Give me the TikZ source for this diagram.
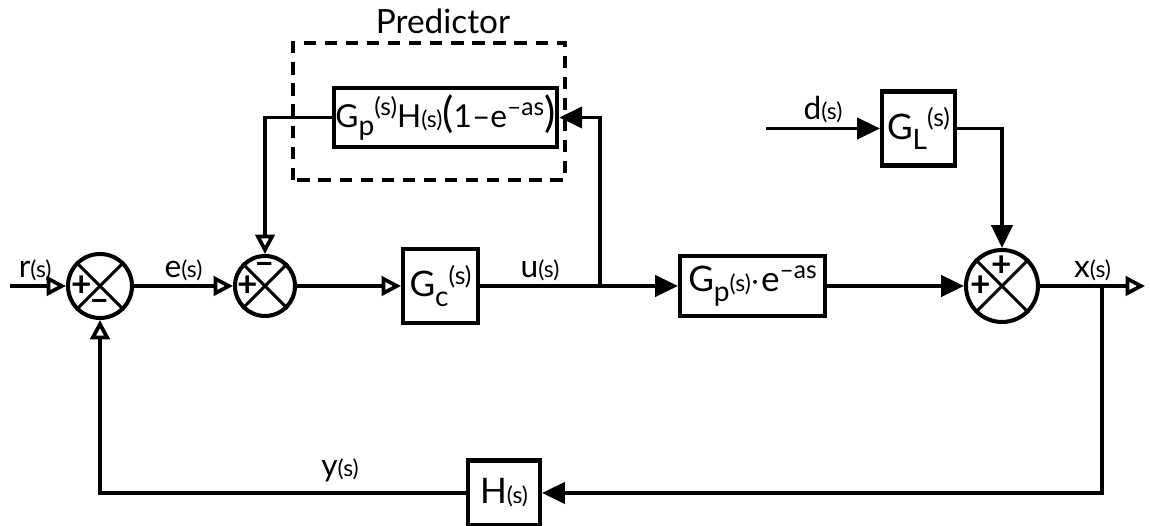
\documentclass[tikz,border=0pt]{standalone}
\usepackage{fontspec}
\setmainfont{Lato}
\usetikzlibrary{arrows.meta,positioning}

\newcommand{\lo}[1]{\raisebox{-0.55ex}{\fontsize{16}{16}\selectfont #1}}
\newcommand{\hi}[1]{\raisebox{0.7ex}{\fontsize{14}{14}\selectfont #1}}
\newcommand{\sm}[1]{{\fontsize{13}{13}\selectfont #1}}

\begin{document}
\begin{tikzpicture}[>={Triangle[length=13pt,width=12pt]},
    line width=2.1pt,
    block/.style={draw, line width=2.3pt, inner sep=2pt, font=\fontsize{20}{22}\selectfont},
    sumnode/.style={draw, circle, line width=2.3pt, inner sep=0pt},
    sign/.style={font=\bfseries\fontsize{20}{20}\selectfont, inner sep=0pt},
    lbl/.style={font=\fontsize{18}{20}\selectfont, inner sep=2pt},
    oarr/.style={-{Triangle[open,length=11pt,width=11pt]}}]

  \useasboundingbox (0,0) rectangle (23,10.52);

  % Sommatiepunten
  \node[sumnode, minimum size=1.28cm] (s1) at (2.0,4.8) {};
  \node[sumnode, minimum size=1.2cm] (s2) at (5.3,4.8) {};
  \node[sumnode, minimum size=1.44cm] (s3) at (20.04,4.8) {};
  \foreach \s in {s1,s2,s3}
    \draw[line width=1.7pt] (\s.north west) -- (\s.south east)
                            (\s.north east) -- (\s.south west);

  % Tekens
  \node[sign] (p1) at ([xshift=-0.36cm]s1.center) {+};
  \node[sign] (m1) at ([yshift=-0.38cm]s1.center) {--};
  \node[sign] (p2) at ([xshift=-0.34cm]s2.center) {+};
  \node[sign] (m2) at ([yshift=0.36cm]s2.center) {--};
  \node[sign] (p3) at ([yshift=0.4cm]s3.center) {+};
  \node[sign] (q3) at ([xshift=-0.42cm]s3.center) {+};

  % Blokken
  \node[block, minimum width=1.5cm, minimum height=1.48cm] (gc) at (8.81,4.8)
    {G\lo{c}\hi{(s)}};
  \node[block, minimum width=2.9cm, minimum height=1.2cm] (gp) at (15.05,4.8)
    {G\lo{p}\sm{(s)}$\cdot$e\hi{--as}};
  \node[block, minimum width=1.46cm, minimum height=1.48cm] (gl) at (18.37,7.95)
    {G\lo{L}\hi{(s)}};
  \node[block, minimum width=1.44cm, minimum height=1.3cm] (hb) at (10.08,0.66)
    {H\sm{(s)}};
  \node[block, minimum width=4.1cm, minimum height=1.18cm, inner sep=1pt,
        font=\fontsize{18}{20}\selectfont] (pred) at (8.91,8.17)
    {G\lo{p}\hi{(s)}H\sm{(s)}{\fontsize{24}{24}\selectfont(}1--e\hi{--as}{\fontsize{24}{24}\selectfont)}};

  % Predictor-kader
  \draw[line width=1.9pt, dash pattern=on 7pt off 5pt] (5.86,6.92) rectangle (11.3,9.66);
  \node[lbl, font=\fontsize{19}{21}\selectfont] (predl) at (8.86,10.1) {Predictor};

  % Hulppunten
  \coordinate (rin) at (0.2,4.8);
  \coordinate (br) at (12.0,4.8);
  \coordinate (xo) at (22.9,4.8);
  \coordinate (fb) at (22.04,4.8);
  \coordinate (din) at (15.32,7.95);

  % Voorwaartse tak
  \draw[oarr] (rin) -- (s1.west) node[lbl, pos=0.45, above] (rl) {r\sm{(s)}};
  \draw[oarr] (s1.east) -- (s2.west) node[lbl, midway, above] (el) {e\sm{(s)}};
  \draw[oarr] (s2.east) -- (gc.west);
  \draw (gc.east) -- (br) node[lbl, midway, above] (ul) {u\sm{(s)}};
  \draw[->] (br) -- (gp.west);
  \draw[->] (gp.east) -- (s3.west);
  \draw[oarr] (s3.east) -- (xo) node[lbl, midway, above] (xl) {x\sm{(s)}};

  % Predictor-lus
  \draw[->] (br) |- (pred.east);
  \draw[oarr] (pred.west) -| (s2.north);

  % Storing
  \draw[->] (din) -- (gl.west) node[lbl, midway, above] (dl) {d\sm{(s)}};
  \draw[->] (gl.east) -| (s3.north);

  % Terugkoppeling
  \draw[->] (fb) |- (hb.east);
  \draw[oarr] (hb.west) -| (s1.south);
  \node[lbl] (yl) at (6.8,1.12) {y\sm{(s)}};

\end{tikzpicture}
\end{document}
